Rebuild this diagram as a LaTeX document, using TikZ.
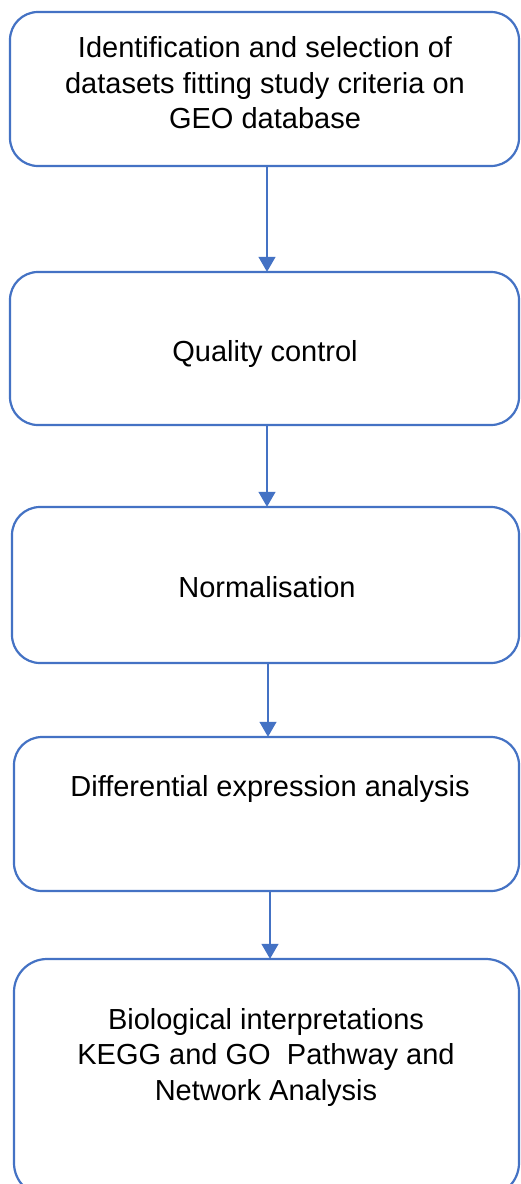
\documentclass[tikz,border=0pt]{standalone}
\usepackage{fontspec}
\setmainfont{Liberation Sans}
\usetikzlibrary{arrows.meta}
\definecolor{officeblue}{HTML}{4472C4}
\begin{document}
\begin{tikzpicture}[x=1pt,y=-1pt,
  stepbox/.style={draw=officeblue,line width=2.2pt,rounded corners=28pt,fill=white},
  txt/.style={align=center,inner sep=0pt,font=\fontsize{29}{35.5}\selectfont},
  arr/.style={draw=officeblue,line width=1.3pt,-{Triangle[width=17pt,length=15pt]}}]
\useasboundingbox (0,0) rectangle (521,1184);
\clip (0,0) rectangle (521,1184);
\fill[white] (0,0) rectangle (521,1184);
% boxes
\path[stepbox] (10,12) rectangle (519,166);
\node[inner sep=0pt,minimum width=509pt,minimum height=154pt] (b1) at (264.5,89) {};
\path[stepbox] (10,272) rectangle (519,425);
\node[inner sep=0pt,minimum width=509pt,minimum height=153pt] (b2) at (264.5,348.5) {};
\path[stepbox] (12,507) rectangle (519,663);
\node[inner sep=0pt,minimum width=507pt,minimum height=156pt] (b3) at (265.5,585) {};
\path[stepbox] (14,737) rectangle (519,891);
\node[inner sep=0pt,minimum width=505pt,minimum height=154pt] (b4) at (266.5,814) {};
\path[stepbox,rounded corners=33pt] (14,959) rectangle (519,1196);
\node[inner sep=0pt,minimum width=505pt,minimum height=237pt] (b5) at (266.5,1077.5) {};
% texts
\node[txt] (t1) at (265,83) {Identification and selection of\\datasets fitting study criteria on\\GEO database};
\node[txt] (t2) at (265,354) {Quality control};
\node[txt] (t3) at (267,587) {Normalisation};
\node[txt] (t4) at (270,789) {Differential expression analysis};
\node[txt] (t5) at (266,1057) {Biological interpretations\\KEGG and GO\ \ Pathway and\\Network Analysis};
% arrows
\draw[arr] (b1.south -| 267,0) -- (b2.north -| 267,0);
\draw[arr] (b2.south -| 267,0) -- (b3.north -| 267,0);
\draw[arr] (b3.south -| 268,0) -- (b4.north -| 268,0);
\draw[arr] (b4.south -| 270,0) -- (b5.north -| 270,0);
\end{tikzpicture}
\end{document}
